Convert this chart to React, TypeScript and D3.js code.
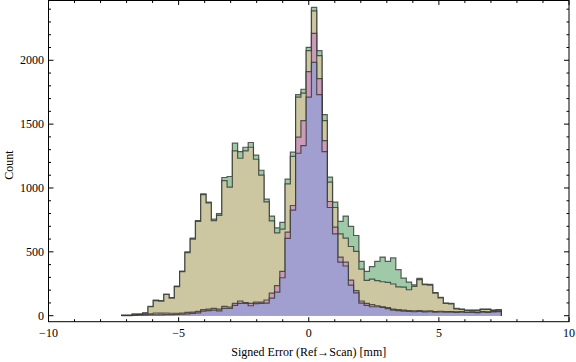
import { useEffect, useRef } from 'react';
import * as d3 from 'd3';

// histogram bins (mm)
const binStart = -7.19;
const binWidth = 0.2026;

// counts per bin, one list per data set (drawn largest first)
const greenCounts = [
  3, 3, 13, 13, 22, 73, 122, 118, 170, 141, 231, 349, 500, 608, 745, 955, 890, 756,
  800, 1082, 1090, 1351, 1285, 1319, 1356, 1257, 1139, 912, 780, 688, 730, 1069, 1280, 1731,
  1773, 2101, 2414, 2075, 1575, 1085, 889, 738, 780, 699, 628, 425, 347, 385, 425, 459,
  425, 452, 360, 294, 263, 242, 292, 248, 245, 180, 143, 99, 96, 57, 52, 44, 44, 44, 52, 52, 44, 47,
];
const tanCounts = [
  2, 2, 12, 12, 20, 70, 118, 114, 166, 138, 227, 345, 494, 600, 738, 948, 884, 745,
  785, 1058, 1006, 1290, 1233, 1290, 1319, 1225, 1100, 891, 743, 649, 678, 1032, 1248, 1711,
  1742, 2075, 2386, 2036, 1528, 1046, 847, 641, 608, 542, 503, 365, 276, 287, 274, 266,
  261, 248, 225, 224, 203, 229, 282, 244, 240, 176, 140, 96, 93, 54, 49, 41, 41, 41, 49, 49, 41, 44,
];
const pinkCounts = [
  2, 2, 5, 8, 12, 15, 21, 20, 21, 19, 19, 21, 26, 28, 34, 47, 52, 57,
  52, 73, 68, 96, 115, 102, 96, 107, 107, 123, 177, 235, 347, 655, 863, 1398,
  1528, 1911, 2211, 1856, 1371, 894, 694, 459, 420, 279, 196, 115, 96, 86, 78, 70,
  63, 52, 47, 44, 40, 38, 40, 36, 38, 33, 35, 32, 33, 30, 32, 29, 31, 28, 33, 30, 34, 36,
];
const blueCounts = [
  1, 1, 3, 4, 5, 6, 7, 7, 8, 9, 10, 12, 14, 18, 22, 36, 40, 44,
  37, 57, 57, 81, 96, 96, 78, 94, 97, 99, 138, 185, 297, 605, 827, 1272,
  1332, 1711, 1984, 1731, 1285, 847, 641, 420, 389, 240, 178, 99, 81, 70, 70, 65,
  55, 44, 40, 36, 33, 31, 33, 30, 31, 28, 29, 27, 28, 26, 27, 25, 26, 24, 28, 26, 30, 32,
];

const seriesList = [
  { name: 'green', counts: greenCounts, fill: '#9ecaa8' },
  { name: 'tan', counts: tanCounts, fill: '#ccc7a1' },
  { name: 'pink', counts: pinkCounts, fill: '#cc9bba' },
  { name: 'blue', counts: blueCounts, fill: '#a09fcf' },
];

const xMajorTicks = [-10, -5, 0, 5, 10];
const yMajorTicks = [0, 500, 1000, 1500, 2000];

const App = () => {
  const svgRef = useRef<SVGSVGElement>(null);

  useEffect(() => {
    if (!svgRef.current) return;
    const svg = d3.select(svgRef.current);
    svg.selectAll('*').remove();

    const left = 48.5, right = 569, top = 0.5, bottom = 321.7;
    const x = d3.scaleLinear().domain([-10, 10]).range([left, right]);
    const y = d3.scaleLinear().domain([-47, 2468]).range([bottom, top]);
    const font = '"Liberation Serif", "Times New Roman", serif';

    // step outline + area for each histogram
    seriesList.forEach(s => {
      const pts: [number, number][] = [];
      s.counts.forEach((c, i) => {
        const x0 = binStart + i * binWidth;
        pts.push([x0, c], [x0 + binWidth, c]);
      });
      const first = binStart, last = binStart + s.counts.length * binWidth;
      const area = d3.area<[number, number]>()
        .x(d => x(d[0])).y0(y(0)).y1(d => y(d[1]));
      const line = d3.line<[number, number]>().x(d => x(d[0])).y(d => y(d[1]));

      svg.append('path')
        .attr('d', area(pts))
        .attr('fill', s.fill);
      svg.append('path')
        .attr('d', line([[first, 0], ...pts, [last, 0]]))
        .attr('fill', 'none')
        .attr('stroke', '#2a2f2a')
        .attr('stroke-opacity', 0.75)
        .attr('stroke-width', 1.2);
    });

    // frame
    svg.append('rect')
      .attr('x', left).attr('y', top)
      .attr('width', right - left).attr('height', bottom - top)
      .attr('fill', 'none').attr('stroke', '#000').attr('stroke-width', 1);

    const ticks = svg.append('g').attr('stroke', '#000').attr('stroke-width', 1);

    // x ticks (bottom + top, inward)
    d3.range(-10, 11, 1).forEach(v => {
      const major = v % 5 === 0;
      const len = major ? 4.5 : 2.5;
      const px = x(v);
      ticks.append('line').attr('x1', px).attr('x2', px).attr('y1', bottom).attr('y2', bottom - len);
      ticks.append('line').attr('x1', px).attr('x2', px).attr('y1', top).attr('y2', top + len);
    });

    // y ticks (left + right, inward)
    d3.range(0, 2401, 100).forEach(v => {
      const major = v % 500 === 0;
      const len = major ? 5 : 2.5;
      const py = y(v);
      ticks.append('line').attr('x1', left).attr('x2', left + len).attr('y1', py).attr('y2', py);
      ticks.append('line').attr('x1', right).attr('x2', right - len).attr('y1', py).attr('y2', py);
    });

    // tick labels
    svg.selectAll('.xlab')
      .data(xMajorTicks)
      .enter()
      .append('text')
      .attr('x', d => x(d))
      .attr('y', 337)
      .attr('text-anchor', 'middle')
      .attr('font-family', font)
      .attr('font-size', 12)
      .text(d => (d < 0 ? '\u2212' + Math.abs(d) : String(d)));

    svg.selectAll('.ylab')
      .data(yMajorTicks)
      .enter()
      .append('text')
      .attr('x', 44)
      .attr('y', d => y(d) + 4)
      .attr('text-anchor', 'end')
      .attr('font-family', font)
      .attr('font-size', 12)
      .text(d => String(d));

    // axis titles
    svg.append('text')
      .attr('x', (left + right) / 2)
      .attr('y', 356)
      .attr('text-anchor', 'middle')
      .attr('font-family', font)
      .attr('font-size', 12)
      .text('Signed Error (Ref\u2192Scan) [mm]');

    svg.append('text')
      .attr('transform', `translate(13,${(top + bottom) / 2 + 4}) rotate(-90)`)
      .attr('text-anchor', 'middle')
      .attr('font-family', font)
      .attr('font-size', 12)
      .text('Count');
  }, []);

  return (
    <svg
      ref={svgRef}
      width={576}
      height={362}
      style={{ position: 'absolute', left: 0, top: 0, background: '#fff' }}
    />
  );
};

export default App;
